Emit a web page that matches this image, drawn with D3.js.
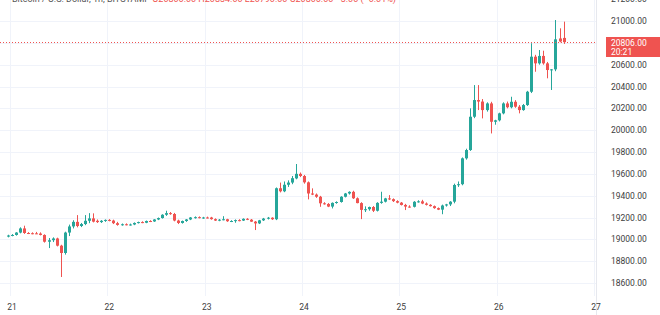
<!DOCTYPE html>
<html lang="en">
<head>
    <meta charset="UTF-8" />
    <title>BTCUSD 1h</title>
    <script src="https://d3js.org/d3.v7.min.js"></script>
    <style>
        body { margin: 0; background: #fff; }
        text { font-family: Roboto, "Liberation Sans", sans-serif; }
    </style>
</head>
<body>
    <div id="chart"></div>

    <script>
        var w = 660;
        var h = 315;

        // hourly candles, first one is 20th 23:00 (hour -1 from day 21)
        var firstHour = -1;
        var opens = [19025, 19035, 19040, 19062, 19100, 19058, 19056, 19055, 19053, 19040, 18978, 18992, 19008, 18942, 18875, 19062, 19118, 19160, 19122, 19140, 19170, 19192, 19170, 19158, 19170,
            19178, 19172, 19148, 19132, 19138, 19135, 19136, 19150, 19158, 19152, 19168, 19164, 19182, 19195, 19225, 19240, 19232, 19172, 19150, 19168, 19182, 19200, 19203, 19196,
            19200, 19200, 19185, 19172, 19180, 19184, 19166, 19168, 19176, 19172, 19188, 19180, 19162, 19146, 19174, 19190, 19198, 19184, 19468, 19440, 19500, 19520, 19558, 19600, 19580,
            19522, 19420, 19410, 19390, 19330, 19324, 19300, 19334, 19342, 19390, 19420, 19435, 19376, 19332, 19270, 19276, 19296, 19262, 19334, 19345, 19375, 19368,
            19350, 19336, 19315, 19300, 19298, 19344, 19348, 19328, 19316, 19304, 19286, 19272, 19310, 19320, 19345, 19498, 19505, 19742, 19818, 20123, 20276, 20262, 20184, 20245, 20077,
            20090, 20154, 20245, 20210, 20260, 20215, 20184, 20230, 20352, 20673, 20612, 20680, 20612, 20551, 20557, 20840, 20845];
        var highs = [19042, 19048, 19066, 19110, 19125, 19066, 19064, 19068, 19064, 19046, 19012, 19018, 19015, 18950, 19070, 19135, 19175, 19222, 19150, 19222, 19240, 19238, 19182, 19176, 19182,
            19185, 19180, 19160, 19145, 19146, 19144, 19155, 19162, 19165, 19172, 19175, 19185, 19200, 19230, 19262, 19250, 19242, 19180, 19172, 19186, 19204, 19210, 19210, 19206,
            19208, 19206, 19192, 19186, 19212, 19188, 19175, 19182, 19184, 19192, 19194, 19186, 19168, 19178, 19196, 19205, 19202, 19475, 19520, 19530, 19540, 19580, 19690, 19612, 19590,
            19530, 19467, 19420, 19398, 19340, 19332, 19338, 19348, 19395, 19425, 19440, 19445, 19384, 19340, 19302, 19300, 19305, 19340, 19436, 19380, 19405, 19375,
            19358, 19342, 19325, 19312, 19350, 19358, 19362, 19338, 19322, 19310, 19292, 19318, 19325, 19350, 19510, 19530, 19750, 19830, 20200, 20413, 20413, 20285, 20255, 20260, 20095,
            20160, 20255, 20262, 20306, 20275, 20230, 20240, 20360, 20796, 20690, 20734, 20728, 20625, 20560, 21009, 20933, 20994];
        var lows = [19018, 19028, 19034, 19055, 19050, 19048, 19046, 19048, 19036, 18970, 18920, 18975, 18935, 18655, 18860, 19030, 19100, 19110, 19112, 19130, 19148, 19155, 19150, 19150, 19160,
            19165, 19140, 19125, 19125, 19128, 19126, 19130, 19145, 19148, 19148, 19158, 19160, 19176, 19190, 19215, 19225, 19165, 19140, 19144, 19160, 19176, 19190, 19192, 19188,
            19192, 19180, 19168, 19166, 19174, 19160, 19158, 19152, 19165, 19168, 19176, 19160, 19085, 19140, 19168, 19182, 19178, 19176, 19430, 19432, 19480, 19505, 19550, 19570, 19510,
            19366, 19405, 19380, 19298, 19318, 19295, 19283, 19326, 19336, 19384, 19410, 19370, 19330, 19185, 19250, 19262, 19250, 19255, 19326, 19338, 19360, 19342,
            19330, 19310, 19268, 19290, 19292, 19336, 19322, 19310, 19300, 19280, 19268, 19230, 19300, 19305, 19330, 19480, 19495, 19730, 19810, 20110, 20184, 20108, 20170, 19970, 20050,
            20080, 20145, 20200, 20200, 20205, 20154, 20178, 20222, 20340, 20535, 20600, 20600, 20475, 20368, 20540, 20805, 20790];
        var closes = [19035, 19040, 19062, 19100, 19058, 19056, 19055, 19053, 19040, 18978, 18992, 19008, 18942, 18875, 19062, 19118, 19160, 19122, 19140, 19170, 19192, 19162, 19158, 19170, 19178,
            19172, 19148, 19132, 19138, 19135, 19136, 19150, 19158, 19152, 19168, 19164, 19182, 19195, 19225, 19240, 19232, 19172, 19150, 19168, 19182, 19200, 19203, 19196, 19200,
            19198, 19185, 19172, 19180, 19184, 19166, 19168, 19176, 19172, 19188, 19180, 19162, 19146, 19174, 19190, 19198, 19184, 19468, 19440, 19500, 19520, 19560, 19600, 19580, 19522,
            19420, 19410, 19390, 19330, 19324, 19300, 19334, 19342, 19390, 19420, 19435, 19376, 19332, 19270, 19276, 19296, 19262, 19334, 19345, 19375, 19368, 19350,
            19336, 19315, 19300, 19298, 19344, 19348, 19328, 19316, 19304, 19286, 19272, 19310, 19320, 19345, 19498, 19505, 19742, 19818, 20123, 20276, 20262, 20184, 20245, 20077, 20090,
            20154, 20245, 20210, 20260, 20215, 20184, 20230, 20352, 20673, 20612, 20680, 20612, 20551, 20557, 20832, 20812, 20806];

        var dayLabels = ["21", "22", "23", "24", "25", "26", "27"];
        var priceTicks = [18600, 18800, 19000, 19200, 19400, 19600, 19800, 20000, 20200, 20400, 20600, 20800, 21000, 21200];
        var lastPrice = 20806;
        var countdown = "20:21";
        var titleName = "Bitcoin / U.S. Dollar, 1h, BITSTAMP";
        var titleOhlc = "O20806.00 H20834.00 L20790.00 C20806.00";
        var titleChange = "\u22123.00 (\u22120.01%)";

        var up = "#26a69a";
        var down = "#ef5350";
        var plotRight = 596;

        var svg = d3.select("#chart")
            .append("svg")
            .attr("width", w)
            .attr("height", h)
            .style("display", "block");

        var xScale = d3.scaleLinear()
            .domain([0, 144])
            .range([12, 596]);

        var yScale = d3.scaleLinear()
            .domain([18600, 21000])
            .range([283, 21]);

        // grid
        svg.append("g")
            .selectAll("line")
            .data(priceTicks)
            .enter()
            .append("line")
            .attr("x1", 0)
            .attr("x2", plotRight)
            .attr("y1", function (d) { return Math.round(yScale(d)) + 0.5; })
            .attr("y2", function (d) { return Math.round(yScale(d)) + 0.5; })
            .attr("stroke", "#f0f3fa");

        svg.append("g")
            .selectAll("line")
            .data(dayLabels)
            .enter()
            .append("line")
            .attr("x1", function (d, i) { return Math.round(xScale(i * 24)) - 1.5; })
            .attr("x2", function (d, i) { return Math.round(xScale(i * 24)) - 1.5; })
            .attr("y1", 0)
            .attr("y2", 296)
            .attr("stroke", "#f0f3fa");

        // price axis border
        svg.append("line")
            .attr("x1", plotRight + 0.5)
            .attr("x2", plotRight + 0.5)
            .attr("y1", 0)
            .attr("y2", h)
            .attr("stroke", "#e6e8ee");

        // candles
        var candles = closes.map(function (c, i) {
            return { hour: firstHour + i, o: opens[i], h: highs[i], l: lows[i], c: c };
        });

        var cg = svg.append("g");

        cg.selectAll("line")
            .data(candles)
            .enter()
            .append("line")
            .attr("x1", function (d) { return Math.round(xScale(d.hour)) + 0.5; })
            .attr("x2", function (d) { return Math.round(xScale(d.hour)) + 0.5; })
            .attr("y1", function (d) { return yScale(d.h); })
            .attr("y2", function (d) { return yScale(d.l); })
            .attr("stroke", function (d) { return d.c >= d.o ? up : down; })
            .attr("stroke-width", 1);

        cg.selectAll("rect")
            .data(candles)
            .enter()
            .append("rect")
            .attr("x", function (d) { return Math.round(xScale(d.hour)) - 1; })
            .attr("width", 3)
            .attr("y", function (d) { return yScale(Math.max(d.o, d.c)); })
            .attr("height", function (d) { return Math.max(1, Math.abs(yScale(d.o) - yScale(d.c))); })
            .attr("fill", function (d) { return d.c >= d.o ? up : down; });

        // last price line
        var ly = Math.round(yScale(lastPrice)) + 0.5;
        svg.append("line")
            .attr("x1", 0)
            .attr("x2", plotRight)
            .attr("y1", ly)
            .attr("y2", ly)
            .attr("stroke", down)
            .attr("stroke-dasharray", "1,2");

        // price labels
        svg.append("g")
            .selectAll("text")
            .data(priceTicks.filter(function (d) { return d !== 20800; }))
            .enter()
            .append("text")
            .attr("x", 611)
            .attr("y", function (d) { return yScale(d) + 3; })
            .attr("fill", "#3d3d3d")
            .style("font-size", "8.5px")
            .text(function (d) { return d3.format(".2f")(d); });

        svg.append("rect")
            .attr("x", 606)
            .attr("y", ly - 5.5)
            .attr("width", 54)
            .attr("height", 20)
            .attr("fill", down);

        svg.append("text")
            .attr("x", 611)
            .attr("y", ly + 3)
            .attr("fill", "#fff")
            .style("font-size", "8.5px")
            .text(d3.format(".2f")(lastPrice));

        svg.append("text")
            .attr("x", 611)
            .attr("y", ly + 12)
            .attr("fill", "#fff")
            .style("font-size", "8.5px")
            .text(countdown);

        // day labels
        svg.append("g")
            .selectAll("text")
            .data(dayLabels)
            .enter()
            .append("text")
            .attr("x", function (d, i) { return xScale(i * 24); })
            .attr("y", 310)
            .attr("text-anchor", "middle")
            .attr("fill", "#3d3d3d")
            .style("font-size", "8.5px")
            .text(function (d) { return d; });

        // legend line at the top, mostly cut off
        var title = svg.append("text")
            .attr("x", 12)
            .attr("y", 2)
            .style("font-size", "9px");
        title.append("tspan").attr("fill", "#555").text(titleName + "  ");
        title.append("tspan").attr("fill", down).text(titleOhlc + "  ");
        title.append("tspan").attr("fill", down).text(titleChange);
    </script>
</body>
</html>
